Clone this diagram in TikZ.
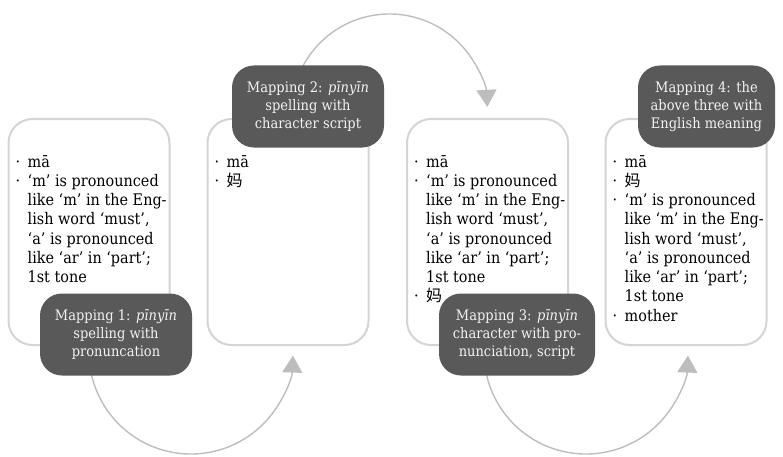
\documentclass[tikz,border=0pt]{standalone}
\usepackage{fontspec}
\setmainfont{DejaVu Serif}[FakeStretch=0.9]
\newfontfamily\cjk{Noto Sans CJK SC}
\usetikzlibrary{arrows.meta}
\definecolor{boxline}{HTML}{D4D4D4}
\definecolor{arcline}{HTML}{BDBDBD}
\definecolor{mapfill}{HTML}{595959}
\definecolor{maptext}{HTML}{F2F2F2}
\newcommand{\itembul}{\makebox[12pt][l]{·}}
\newcommand{\itemcont}{\hspace*{12pt}}
\tikzset{
  stagebox/.style={draw=boxline, line width=2pt, rounded corners=24pt,
    minimum width=161pt, minimum height=226pt, inner sep=0pt},
  stagelist/.style={anchor=north west, align=left, inner sep=0pt,
    font=\fontsize{16}{19.25}\selectfont},
  mapping/.style={fill=mapfill, text=maptext, rounded corners=22pt,
    minimum height=82pt, inner sep=0pt, align=center,
    font=\fontsize{14.5}{18.3}\selectfont},
  flowarc/.style={arcline, line width=1.4pt, -{Triangle[length=17pt,width=20pt]}},
}

\begin{document}
\begin{tikzpicture}[x=1pt,y=1pt]
        \useasboundingbox (0,0) rectangle (783,456);

        % the four stages
        \node[stagebox] (box1) at (89,224) {};
        \node[stagebox] (box2) at (288,224) {};
        \node[stagebox] (box3) at (487.5,224) {};
        \node[stagebox] (box4) at (686,224) {};

        % what each stage holds
        \node[stagelist] (list1) at ([xshift=8pt,yshift=-37pt]box1.north west) {%
          \itembul mā\\
          \itembul ‘m’ is pronounced\\
          \itemcont like ‘m’ in the Eng-\\
          \itemcont lish word ‘must’,\\
          \itemcont ‘a’ is pronounced\\
          \itemcont like ‘ar’ in ‘part’;\\
          \itemcont 1st tone};
        \node[stagelist] (list2) at ([xshift=8pt,yshift=-37pt]box2.north west) {%
          \itembul mā\\
          \itembul {\cjk 妈}};
        \node[stagelist] (list3) at ([xshift=8pt,yshift=-37pt]box3.north west) {%
          \itembul mā\\
          \itembul ‘m’ is pronounced\\
          \itemcont like ‘m’ in the Eng-\\
          \itemcont lish word ‘must’,\\
          \itemcont ‘a’ is pronounced\\
          \itemcont like ‘ar’ in ‘part’;\\
          \itemcont 1st tone\\
          \itembul {\cjk 妈}};
        \node[stagelist] (list4) at ([xshift=8pt,yshift=-37pt]box4.north west) {%
          \itembul mā\\
          \itembul {\cjk 妈}\\
          \itembul ‘m’ is pronounced\\
          \itemcont like ‘m’ in the Eng-\\
          \itemcont lish word ‘must’,\\
          \itemcont ‘a’ is pronounced\\
          \itemcont like ‘ar’ in ‘part’;\\
          \itemcont 1st tone\\
          \itembul mother};

        % arcs from one stage to the next
        \coordinate (arc1) at (90.5,121.7);
        \coordinate (arc2) at (293,327);
        \coordinate (arc3) at (485.5,121.7);
        \draw[flowarc] (arc1) arc[start angle=170, end angle=358, radius=102pt];
        \draw[flowarc] (arc2) arc[start angle=190, end angle=3, radius=98pt];
        \draw[flowarc] (arc3) arc[start angle=170, end angle=358, radius=102pt];

        % mapping labels
        \node[mapping, minimum width=152pt] (map1) at (116,121.5)
          {Mapping 1: \textit{pīnyīn}\\spelling with\\pronuncation};
        \node[mapping, minimum width=152pt] (map2) at (308,349.5)
          {Mapping 2: \textit{pīnyīn}\\spelling with\\character script};
        \node[mapping, minimum width=156pt] (map3) at (517,121.5)
          {Mapping 3: \textit{pīnyīn}\\character with pro-\\nunciation, script};
        \node[mapping, minimum width=137pt] (map4) at (706.5,349.5)
          {Mapping 4: the\\above three with\\English meaning};
    \end{tikzpicture}
\end{document}
